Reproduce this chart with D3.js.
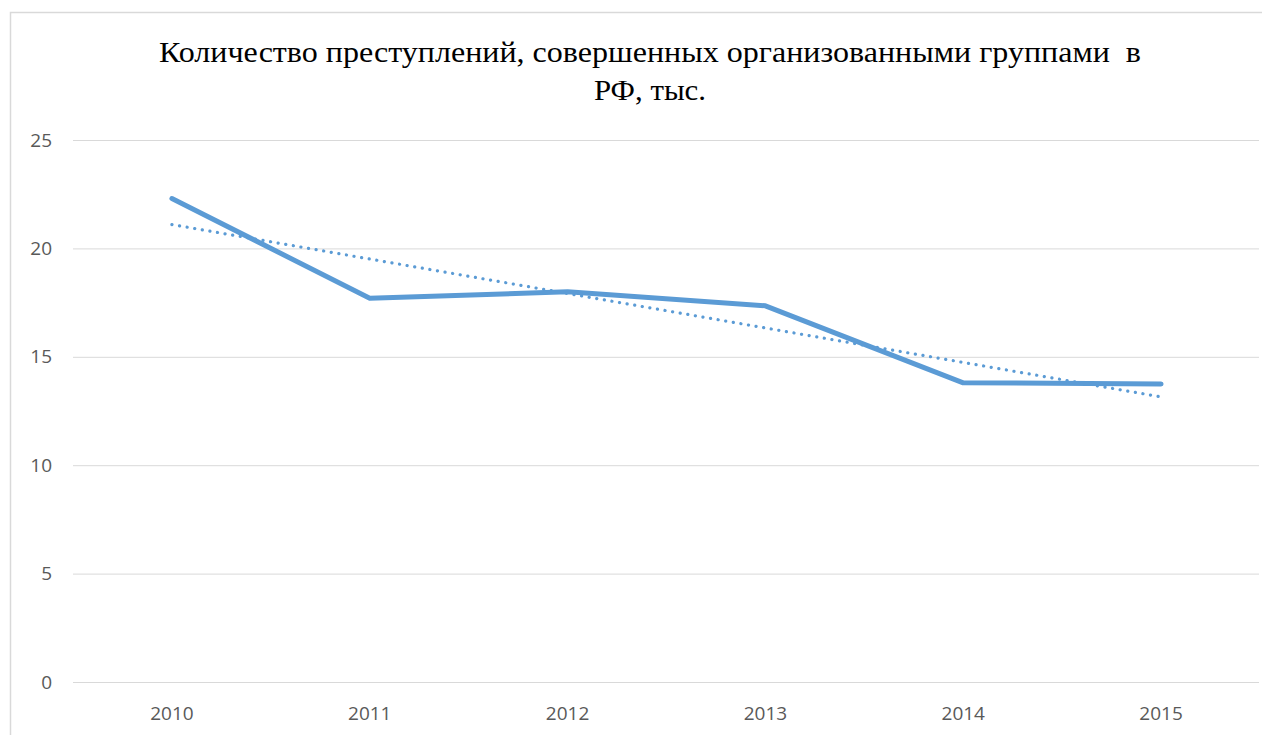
<!DOCTYPE html>
<html>
<head>
<meta charset="utf-8">
<script src="https://cdn.jsdelivr.net/npm/d3@7"></script>
<style>
  body { margin: 0; background: #fff; }
  svg { display: block; }
</style>
</head>
<body>
<script>
// data
var years = ["2010", "2011", "2012", "2013", "2014", "2015"];
var crimes = [22.3, 17.7, 18.0, 17.35, 13.8, 13.75];
var trendEnds = [21.1, 13.15];   // linear trend line, first and last year
var yTicks = [0, 5, 10, 15, 20, 25];
var titleLines = ["Количество преступлений, совершенных организованными группами  в", "РФ, тыс."];

var w = 1262, h = 735;
var plotLeft = 73, plotRight = 1260, plotTop = 140, plotBottom = 682;

var svg = d3.select("body").append("svg")
    .attr("width", w)
    .attr("height", h);

// chart border
svg.append("rect")
    .attr("x", 10.5).attr("y", 12.5)
    .attr("width", w).attr("height", h)
    .attr("fill", "none")
    .attr("stroke", "#d9d9d9")
    .attr("stroke-width", 1.5);

var x = d3.scaleBand()
    .domain(years)
    .range([plotLeft, plotRight]);

var y = d3.scaleLinear()
    .domain([0, 25])
    .range([plotBottom, plotTop]);

// gridlines
svg.append("g")
    .selectAll("line")
    .data(yTicks)
    .enter()
    .append("line")
    .attr("x1", plotLeft).attr("x2", plotRight - 1)
    .attr("y1", function(d) { return y(d) + 0.5; })
    .attr("y2", function(d) { return y(d) + 0.5; })
    .attr("stroke", "#d9d9d9")
    .attr("stroke-width", 1);

// y axis labels
var yAxis = d3.axisLeft(y).tickValues(yTicks).tickSize(0).tickPadding(0);
var gy = svg.append("g")
    .attr("transform", "translate(52,0)")
    .call(yAxis);
gy.select(".domain").remove();
gy.selectAll("text")
    .attr("fill", "#595959")
    .style("font-family", "'Open Sans', sans-serif")
    .style("font-size", "19px");

// x axis labels
var xAxis = d3.axisBottom(x).tickSize(0).tickPadding(0);
var gx = svg.append("g")
    .attr("transform", "translate(0," + (plotBottom + 24) + ")")
    .call(xAxis);
gx.select(".domain").remove();
gx.selectAll("text")
    .attr("fill", "#595959")
    .style("font-family", "'Open Sans', sans-serif")
    .style("font-size", "19px");

function cx(d) { return x(d) + x.bandwidth() / 2; }

// trend line (dotted)
var trendData = [[years[0], trendEnds[0]], [years[years.length - 1], trendEnds[1]]];
svg.append("path")
    .datum(trendData)
    .attr("d", d3.line()
        .x(function(d) { return cx(d[0]); })
        .y(function(d) { return y(d[1]); }))
    .attr("fill", "none")
    .attr("stroke", "#5b9bd5")
    .attr("stroke-width", 3.2)
    .attr("stroke-linecap", "round")
    .attr("stroke-dasharray", "0.1,7.6");

// main series
svg.append("path")
    .datum(crimes)
    .attr("d", d3.line()
        .x(function(d, i) { return cx(years[i]); })
        .y(function(d) { return y(d); }))
    .attr("fill", "none")
    .attr("stroke", "#5b9bd5")
    .attr("stroke-width", 5)
    .attr("stroke-linecap", "round")
    .attr("stroke-linejoin", "round");

// title
svg.append("g")
    .selectAll("text")
    .data(titleLines)
    .enter()
    .append("text")
    .attr("x", 650)
    .attr("y", function(d, i) { return 62 + i * 38; })
    .attr("text-anchor", "middle")
    .attr("fill", "#000")
    .style("white-space", "pre")
    .style("font-family", "'Liberation Serif', 'Times New Roman', serif")
    .style("font-size", "29px")
    .attr("textLength", function(d, i) { return i == 0 ? 982 : 112; })
    .attr("lengthAdjust", "spacingAndGlyphs")
    .text(function(d) { return d; });
</script>
</body>
</html>
